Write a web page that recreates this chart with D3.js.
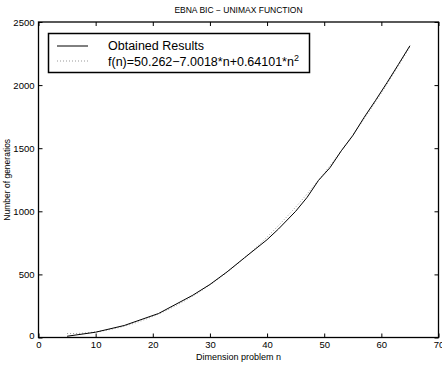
<!DOCTYPE html>
<html>
<head>
<meta charset="utf-8">
<script src="https://cdn.jsdelivr.net/npm/d3@7"></script>
<style>
  body { margin: 0; background: #fff; }
  svg { display: block; font-family: "Liberation Sans", Arial, Helvetica, sans-serif; }
</style>
</head>
<body>
<svg id="chart" width="442" height="365"></svg>
<script>
// Measured generations for each problem dimension
const dimensions = [5, 10, 15, 21, 27, 30, 33, 36, 40, 42, 45, 47, 49, 51, 53, 55, 57, 59, 61, 63, 65];
const generations = [10, 42, 95, 190, 335, 420, 520, 630, 775, 860, 1000, 1110, 1245, 1345, 1480, 1600, 1745, 1880, 2020, 2165, 2312];

// Quadratic fit coefficients: f(n) = a + b*n + c*n^2
const fitCoef = [50.262, -7.0018, 0.64101];
const fitRange = [5, 65];

const xTicks = [0, 10, 20, 30, 40, 50, 60, 70];
const yTicks = [0, 500, 1000, 1500, 2000, 2500];

const svg = d3.select("#chart");
const plotL = 38.5, plotR = 438.5, plotT = 22, plotB = 337.5;

const x = d3.scaleLinear().domain([0, 70]).range([plotL, plotR]);
const y = d3.scaleLinear().domain([0, 2500]).range([plotB, plotT]);

// Fit curve sampled at each integer dimension
const fitPts = d3.range(fitRange[0], fitRange[1] + 1).map(n => [n, fitCoef[0] + fitCoef[1] * n + fitCoef[2] * n * n]);

const line = d3.line().x(d => x(d[0])).y(d => y(d[1]));

svg.append("path")
  .datum(fitPts)
  .attr("d", line)
  .attr("fill", "none")
  .attr("stroke", "#999")
  .attr("stroke-width", 1)
  .attr("stroke-dasharray", "1,2");

svg.append("path")
  .datum(dimensions.map((n, i) => [n, generations[i]]))
  .attr("d", line)
  .attr("fill", "none")
  .attr("stroke", "#000")
  .attr("stroke-width", 1);

// Axes with inward ticks on all four sides
const tickLen = 4;
const fmt = d3.format("d");
const axB = svg.append("g").attr("transform", `translate(0,${plotB})`)
  .call(d3.axisBottom(x).tickValues(xTicks).tickFormat(fmt).tickSizeInner(-tickLen).tickSizeOuter(0).tickPadding(4));
const axT = svg.append("g").attr("transform", `translate(0,${plotT})`)
  .call(d3.axisTop(x).tickValues(xTicks).tickSizeInner(-tickLen).tickSizeOuter(0).tickFormat(""));
const axL = svg.append("g").attr("transform", `translate(${plotL},0)`)
  .call(d3.axisLeft(y).tickValues(yTicks).tickFormat(fmt).tickSizeInner(-tickLen).tickSizeOuter(0).tickPadding(4));
const axR = svg.append("g").attr("transform", `translate(${plotR},0)`)
  .call(d3.axisRight(y).tickValues(yTicks).tickSizeInner(-tickLen).tickSizeOuter(0).tickFormat(""));

[axB, axT, axL, axR].forEach(g => {
  g.select(".domain").remove();
  g.selectAll("line").attr("stroke", "#000").attr("stroke-width", 1);
  g.selectAll("text").attr("font-size", 9.5).attr("fill", "#000")
    .attr("font-family", "Liberation Sans, Arial, sans-serif");
});
// The zero label on the value axis sits slightly above its tick
axL.selectAll(".tick text").filter(d => d === 0).attr("dy", "0.1em");

svg.append("rect")
  .attr("x", plotL).attr("y", plotT)
  .attr("width", plotR - plotL).attr("height", plotB - plotT)
  .attr("fill", "none").attr("stroke", "#000").attr("stroke-width", 1.3);

// Titles
svg.append("text").attr("x", (plotL + plotR) / 2).attr("y", 13)
  .attr("text-anchor", "middle").attr("font-size", 8.5).text("EBNA BIC \u2212 UNIMAX FUNCTION");
svg.append("text").attr("x", (plotL + plotR) / 2).attr("y", 360)
  .attr("text-anchor", "middle").attr("font-size", 9).text("Dimension problem n");
svg.append("text").attr("transform", `translate(10,${(plotT + plotB) / 2}) rotate(-90)`)
  .attr("text-anchor", "middle").attr("font-size", 8.5).text("Number of generatios");

// Legend
const lg = svg.append("g");
lg.append("rect").attr("x", 48.5).attr("y", 33.5).attr("width", 261).attr("height", 39)
  .attr("fill", "#fff").attr("stroke", "#000").attr("stroke-width", 1.5);
lg.append("line").attr("x1", 57).attr("x2", 88).attr("y1", 46).attr("y2", 46)
  .attr("stroke", "#000").attr("stroke-width", 1);
lg.append("line").attr("x1", 57).attr("x2", 88).attr("y1", 61).attr("y2", 61)
  .attr("stroke", "#999").attr("stroke-width", 1).attr("stroke-dasharray", "1,2");
lg.append("text").attr("x", 108).attr("y", 50).attr("font-size", 12.5).text("Obtained Results");
const ft = lg.append("text").attr("x", 108).attr("y", 66).attr("font-size", 12.5);
ft.append("tspan").text("f(n)=50.262\u22127.0018*n+0.64101*n");
ft.append("tspan").attr("dy", -5).attr("font-size", 9).text("2");
</script>
</body>
</html>
